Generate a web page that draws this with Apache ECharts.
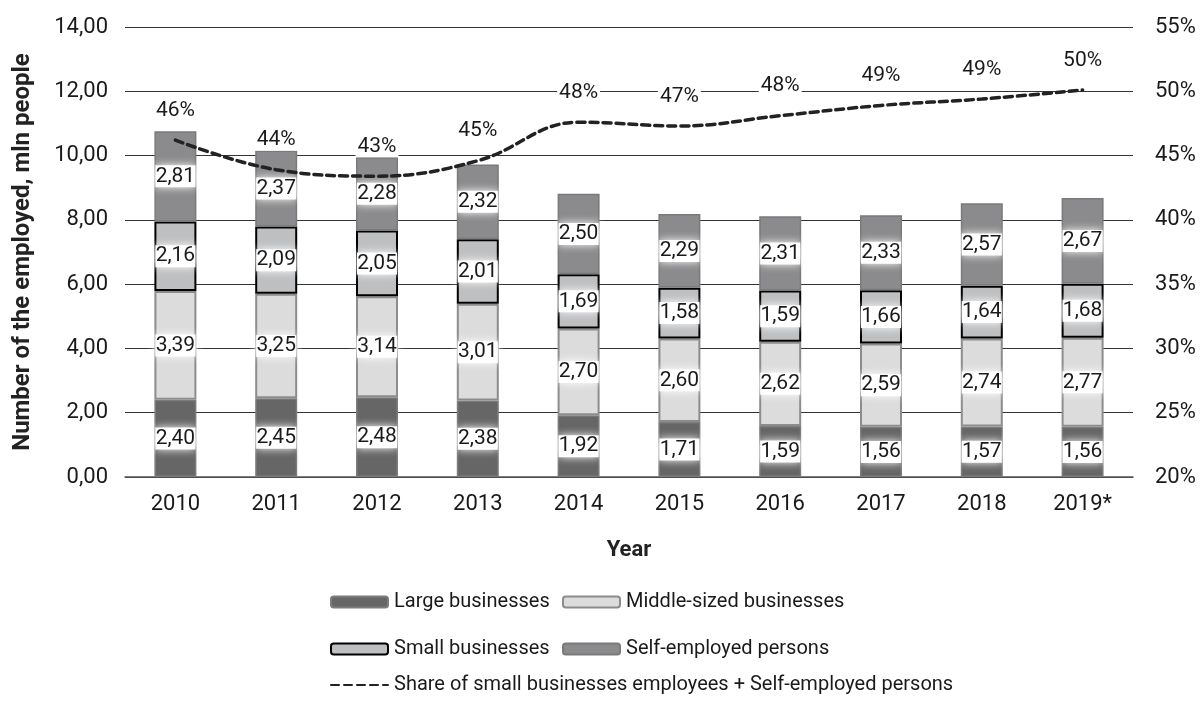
<!DOCTYPE html>
<html>
<head>
<meta charset="utf-8">
<script src="https://cdn.jsdelivr.net/npm/echarts@6/dist/echarts.min.js"></script>
<style>
html,body{margin:0;padding:0;background:#fff;}
#chart{width:1203px;height:702px;}
</style>
</head>
<body>
<div id="chart"></div>
<script>
const years = ['2010','2011','2012','2013','2014','2015','2016','2017','2018','2019*'];
const largeBiz = [2.40,2.45,2.48,2.38,1.92,1.71,1.59,1.56,1.57,1.56];
const middleBiz = [3.39,3.25,3.14,3.01,2.70,2.60,2.62,2.59,2.74,2.77];
const smallBiz = [2.16,2.09,2.05,2.01,1.69,1.58,1.59,1.66,1.64,1.68];
const selfEmployed = [2.81,2.37,2.28,2.32,2.50,2.29,2.31,2.33,2.57,2.67];
const sharePct = [46.2,43.9,43.4,44.6,47.6,47.3,48.1,48.9,49.4,50.1];

const FONT = 'Roboto';
const TXT = '#1a1a1a';
const fmtComma = v => v.toFixed(2).replace('.', ',');

const barLabel = {
  show: true,
  position: 'inside',
  formatter: p => fmtComma(p.value),
  fontFamily: FONT,
  fontSize: 21,
  color: TXT,
  backgroundColor: '#fff',
  width: 40,
  height: 18,
  align: 'center',
  lineHeight: 18,
  padding: [2, 0],
  shadowColor: '#fff',
  shadowBlur: 8
};

function barSeries(name, data, fill, border, bw) {
  return {
    name: name, type: 'bar', stack: 'total', data: data,
    barWidth: 42,
    itemStyle: { color: fill, borderColor: border, borderWidth: bw },
    label: barLabel,
    emphasis: { disabled: true }
  };
}

const legendBase = {
  itemWidth: 57, itemHeight: 11,
  textStyle: { fontFamily: FONT, fontSize: 20, color: TXT, padding: [0, 0, 0, 1] },
  selectedMode: false
};

const chart = echarts.init(document.getElementById('chart'));
chart.setOption({
  animation: false,
  backgroundColor: '#fff',
  grid: { left: 125, right: 70, top: 27, bottom: 225 },
  legend: [
    Object.assign({}, legendBase, { data: ['Large businesses'], left: 325, top: 587 }),
    Object.assign({}, legendBase, { data: ['Middle-sized businesses'], left: 557, top: 587 }),
    Object.assign({}, legendBase, { data: ['Small businesses'], left: 325, top: 634 }),
    Object.assign({}, legendBase, { data: ['Self-employed persons'], left: 557, top: 634 }),
    Object.assign({}, legendBase, { data: ['Share of small businesses employees + Self-employed persons'], left: 325, top: 670 })
  ],
  xAxis: {
    type: 'category', data: years,
    axisTick: { show: false },
    axisLine: { lineStyle: { color: '#555', width: 1.5 } },
    axisLabel: { fontFamily: FONT, fontSize: 22, color: TXT, margin: 16 },
    name: 'Year', nameLocation: 'middle', nameGap: 62,
    nameTextStyle: { fontFamily: FONT, fontSize: 22, fontWeight: 'bold', color: '#222' }
  },
  yAxis: [
    {
      type: 'value', min: 0, max: 14, interval: 2,
      axisLine: { show: false }, axisTick: { show: false },
      splitLine: { lineStyle: { color: '#333', width: 1.2 } },
      axisLabel: { fontFamily: FONT, fontSize: 22, color: TXT, margin: 17, formatter: v => fmtComma(v) },
      name: 'Number of the employed, mln people', nameLocation: 'middle', nameGap: 90,
      nameTextStyle: { fontFamily: FONT, fontSize: 24, fontWeight: 'bold', color: '#222' }
    },
    {
      type: 'value', min: 20, max: 55, interval: 5, position: 'right',
      axisLine: { show: false }, axisTick: { show: false },
      splitLine: { show: false },
      axisLabel: { fontFamily: FONT, fontSize: 22, color: TXT, margin: 22, formatter: '{value}%' }
    }
  ],
  series: [
    barSeries('Large businesses', largeBiz, '#666667', '#7c7c7d', 1.5),
    barSeries('Middle-sized businesses', middleBiz, '#dcdcdd', '#8c8c8d', 2),
    barSeries('Small businesses', smallBiz, '#bebfc1', '#000000', 2),
    barSeries('Self-employed persons', selfEmployed, '#8b8b8d', '#7a7a7b', 1.5),
    {
      name: 'Share of small businesses employees + Self-employed persons',
      type: 'line', yAxisIndex: 1, data: sharePct,
      smooth: 0.4, symbol: 'circle', symbolSize: 2, showSymbol: true,
      itemStyle: { color: 'rgba(0,0,0,0)', borderWidth: 0 },
      lineStyle: { color: '#222', width: 3.5, type: [8, 5], cap: 'round' },
      label: {
        show: true, position: 'top', distance: 18,
        formatter: p => Math.round(p.value) + '%',
        fontFamily: FONT, fontSize: 21, color: TXT,
        backgroundColor: '#fff', padding: [0, 2]
      },
      labelLayout: { hideOverlap: false },
      z: 5,
      emphasis: { disabled: true }
    }
  ]
});
</script>
</body>
</html>
